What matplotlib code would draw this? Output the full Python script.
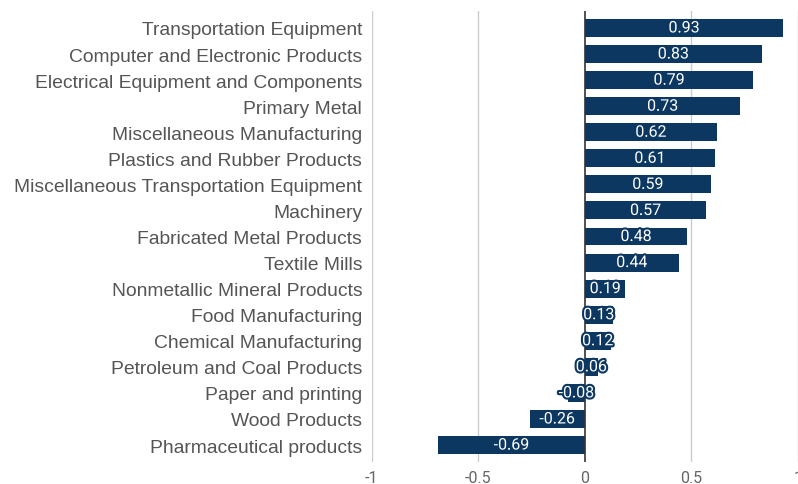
import matplotlib.pyplot as plt
import matplotlib.patheffects as pe

# Correlation by industry
industries = [
    'Transportation Equipment',
    'Computer and Electronic Products',
    'Electrical Equipment and Components',
    'Primary Metal',
    'Miscellaneous Manufacturing',
    'Plastics and Rubber Products',
    'Miscellaneous Transportation Equipment',
    'Machinery',
    'Fabricated Metal Products',
    'Textile Mills',
    'Nonmetallic Mineral Products',
    'Food Manufacturing',
    'Chemical Manufacturing',
    'Petroleum and Coal Products',
    'Paper and printing',
    'Wood Products',
    'Pharmaceutical products',
]
values = [0.93, 0.83, 0.79, 0.73, 0.62, 0.61, 0.59, 0.57, 0.48, 0.44,
          0.19, 0.13, 0.12, 0.06, -0.08, -0.26, -0.69]
x_ticks = [-1, -0.5, 0, 0.5, 1]
x_tick_labels = ['-1', '-0.5', '0', '0.5', '1']

bar_color = '#0c3761'

fig = plt.figure(figsize=(7.98, 4.85), dpi=100)
ax = fig.add_axes([0.466, 1 - 463 / 485, 0.534, 451 / 485])

pos = list(range(len(industries)))
ax.barh(pos, values, height=0.69, color=bar_color, zorder=3)

for y, v in zip(pos, values):
    ax.text(v / 2, y, f'{v:.2f}', ha='center', va='center', color='white',
            fontsize=11.5, family=['Roboto', 'DejaVu Sans'], zorder=4,
            path_effects=[pe.withStroke(linewidth=3, foreground=bar_color)])

ax.set_xlim(-1, 1)
ax.set_ylim(len(industries) - 0.35, -0.65)
ax.set_xticks(x_ticks)
ax.set_xticklabels(x_tick_labels)
ax.set_yticks(pos)
ax.set_yticklabels(industries)

for t in x_ticks:
    if t == 0:
        ax.axvline(t, color='#333333', lw=1.2, zorder=3)
    else:
        ax.axvline(t, color='#cccccc', lw=1, zorder=1)

for s in ax.spines.values():
    s.set_visible(False)

ax.tick_params(axis='y', length=0, pad=7, labelsize=13.9, labelcolor='#555555')
ax.tick_params(axis='x', length=0, pad=5.5, labelsize=11.5,
               labelcolor='#666666')
for lbl in ax.get_yticklabels():
    lbl.set_family(['Liberation Sans', 'DejaVu Sans'])
for lbl in ax.get_xticklabels():
    lbl.set_family(['Roboto', 'DejaVu Sans'])

fig.savefig('out.png', dpi=100)
